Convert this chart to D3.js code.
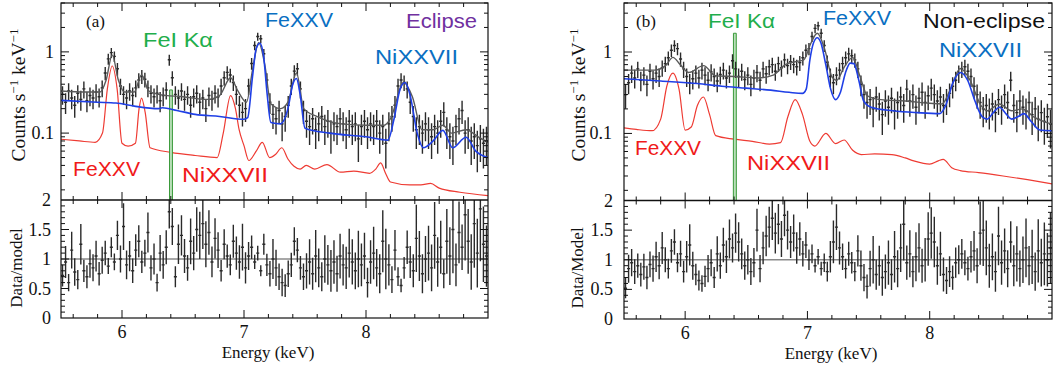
<!DOCTYPE html>
<html>
<head>
<meta charset="utf-8">
<script src="https://cdn.jsdelivr.net/npm/d3@7"></script>
<style>
  body { margin: 0; background: #fff; }
  svg { display: block; }
</style>
</head>
<body>
<svg id="chart" width="1055" height="371"></svg>
<script>
// ---- Data ----
// Spectral bins: 140 bins of 0.025 keV between 5.5 and 9.0 keV
const binStart = 5.5;
const binWidth = 0.025;
const binCount = 140;

// (a) Eclipse: observed rate, counts s^-1 keV^-1
const countsA = [
  0.30, 0.24, 0.33, 0.27, 0.22, 0.31, 0.26, 0.35, 0.25, 0.29,
  0.27, 0.32, 0.28, 0.36, 0.55, 0.82, 0.98, 0.88, 0.62, 0.38,
  0.30, 0.27, 0.33, 0.29, 0.36, 0.45, 0.50, 0.46, 0.36, 0.31,
  0.28, 0.31, 0.25, 0.29, 0.34, 0.80, 0.48, 0.30, 0.27, 0.33,
  0.26, 0.30, 0.22, 0.28, 0.31, 0.24, 0.27, 0.20, 0.29, 0.26,
  0.31, 0.28, 0.38, 0.48, 0.56, 0.52, 0.42, 0.30, 0.22, 0.18,
  0.20, 0.38, 0.72, 1.20, 1.55, 1.45, 0.95, 0.45, 0.24, 0.17,
  0.15, 0.19, 0.13, 0.16, 0.22, 0.38, 0.58, 0.62, 0.35, 0.19,
  0.14, 0.12, 0.15, 0.11, 0.13, 0.16, 0.12, 0.14, 0.10, 0.13,
  0.12, 0.15, 0.13, 0.11, 0.14, 0.12, 0.13, 0.085, 0.12, 0.14,
  0.11, 0.13, 0.12, 0.14, 0.10, 0.12, 0.075, 0.13, 0.16, 0.22,
  0.38, 0.45, 0.42, 0.35, 0.24, 0.16, 0.11, 0.12, 0.10, 0.13,
  0.11, 0.09, 0.12, 0.10, 0.14, 0.18, 0.11, 0.09, 0.08, 0.12,
  0.15, 0.19, 0.10, 0.11, 0.08, 0.09, 0.07, 0.085, 0.075, 0.08
];
const ratioA = [
  0.72, 0.95, 0.60, 1.15, 0.78, 0.65, 1.25, 0.80, 0.70, 0.92,
  0.85, 1.05, 0.75, 0.98, 1.10, 0.88, 1.20, 0.95, 1.40, 1.00,
  1.55, 0.90, 1.05, 0.80, 1.15, 1.30, 0.95, 1.10, 1.45, 0.85,
  1.00, 0.60, 1.10, 0.90, 1.20, 1.80, 1.55, 0.70, 1.25, 1.40,
  1.05, 0.85, 1.30, 1.10, 1.50, 1.40, 1.60, 1.25, 1.45, 0.95,
  1.35, 1.15, 0.80, 1.25, 1.05, 0.90, 1.30, 1.10, 0.95, 1.20,
  0.85, 1.05, 1.20, 0.95, 1.10, 0.80, 1.25, 0.90, 0.75, 1.00,
  0.85, 0.70, 0.60, 0.55, 0.75, 0.90, 1.30, 1.15, 0.85, 0.70,
  0.80, 0.95, 0.75, 1.05, 0.85, 0.70, 1.00, 0.90, 0.80, 0.95,
  0.75, 1.05, 0.90, 0.85, 1.10, 0.95, 0.80, 1.00, 0.90, 1.05,
  0.60, 0.95, 1.10, 0.85, 0.75, 1.30, 1.00, 0.90, 0.65, 1.15,
  0.70, 0.55, 0.85, 1.20, 0.95, 0.80, 1.35, 1.05, 0.75, 1.00,
  1.10, 0.85, 1.40, 0.95, 1.20, 0.75, 1.30, 1.05, 1.50, 0.90,
  1.45, 1.20, 1.75, 1.30, 0.95, 1.60, 1.10, 1.85, 1.25, 1.05
];
// model curves, [energy keV, rate]
const totalModelA = [
  [5.5, 0.33], [5.7, 0.32], [5.82, 0.32], [5.87, 0.45], [5.92, 0.92], [5.97, 0.45],
  [6.02, 0.32], [6.1, 0.32], [6.16, 0.52], [6.22, 0.33], [6.3, 0.3], [6.5, 0.28],
  [6.7, 0.26], [6.8, 0.29], [6.89, 0.48], [6.95, 0.33], [7.02, 0.24], [7.07, 0.6],
  [7.12, 1.3], [7.17, 0.7], [7.22, 0.23], [7.3, 0.2], [7.36, 0.24], [7.43, 0.55],
  [7.49, 0.2], [7.6, 0.16], [7.8, 0.13], [8.0, 0.125], [8.15, 0.125], [8.2, 0.15],
  [8.31, 0.42], [8.38, 0.28], [8.46, 0.11], [8.55, 0.11], [8.63, 0.125], [8.7, 0.1],
  [8.82, 0.11], [8.92, 0.09], [9.0, 0.077]
];
const jetModelA = [
  [5.5, 0.253], [5.8, 0.24], [5.95, 0.235], [6.1, 0.215], [6.3, 0.2], [6.33, 0.205],
  [6.45, 0.19], [6.6, 0.17], [6.8, 0.16], [7.0, 0.148], [7.03, 0.155], [7.07, 0.5],
  [7.1, 1.1], [7.13, 1.28], [7.16, 0.9], [7.19, 0.3], [7.22, 0.135], [7.3, 0.13],
  [7.36, 0.2], [7.4, 0.4], [7.43, 0.47], [7.46, 0.3], [7.5, 0.115], [7.7, 0.1],
  [8.0, 0.09], [8.18, 0.082], [8.23, 0.15], [8.28, 0.35], [8.32, 0.42], [8.36, 0.3],
  [8.42, 0.1], [8.47, 0.066], [8.55, 0.08], [8.63, 0.108], [8.71, 0.066], [8.82, 0.089],
  [8.9, 0.06], [9.0, 0.05]
];
const restModelA = [
  [5.5, 0.084], [5.65, 0.08], [5.78, 0.077], [5.84, 0.1], [5.88, 0.35], [5.92, 0.67],
  [5.96, 0.35], [6.0, 0.075], [6.05, 0.069], [6.11, 0.075], [6.14, 0.2], [6.16, 0.27],
  [6.19, 0.18], [6.23, 0.066], [6.4, 0.058], [6.6, 0.053], [6.78, 0.05], [6.83, 0.1],
  [6.89, 0.29], [6.93, 0.2], [6.96, 0.11], [7.0, 0.07], [7.04, 0.046], [7.1, 0.06],
  [7.15, 0.077], [7.21, 0.05], [7.26, 0.055], [7.31, 0.066], [7.36, 0.048], [7.41, 0.039],
  [7.46, 0.036], [7.51, 0.04], [7.58, 0.036], [7.68, 0.041], [7.79, 0.033], [7.9, 0.034],
  [8.03, 0.032], [8.08, 0.036], [8.12, 0.043], [8.16, 0.032], [8.2, 0.025], [8.36, 0.023],
  [8.45, 0.023], [8.53, 0.024], [8.6, 0.021], [8.77, 0.0187], [9.0, 0.017]
];
const ironLineA = [[6.389, 0.005], [6.39, 0.34], [6.413, 0.34], [6.414, 0.005]];

// (b) Non-eclipse
const countsB = [
  0.30, 0.42, 0.55, 0.48, 0.62, 0.45, 0.52, 0.40, 0.58, 0.47,
  0.55, 0.50, 0.64, 0.72, 0.85, 1.05, 1.20, 1.10, 0.82, 0.62,
  0.50, 0.42, 0.47, 0.55, 0.48, 0.60, 0.52, 0.45, 0.57, 0.50,
  0.44, 0.53, 0.60, 0.48, 0.55, 0.78, 0.62, 0.50, 0.58, 0.46,
  0.52, 0.40, 0.48, 0.56, 0.45, 0.62, 0.54, 0.66, 0.70, 0.58,
  0.72, 0.64, 0.80, 0.68, 0.76, 0.70, 0.66, 0.74, 0.85, 1.05,
  1.10, 1.55, 1.95, 2.10, 1.70, 1.20, 0.75, 0.50, 0.42, 0.52,
  0.60, 0.72, 0.85, 0.95, 0.90, 0.80, 0.62, 0.40, 0.30, 0.24,
  0.26, 0.20, 0.28, 0.23, 0.17, 0.25, 0.21, 0.27, 0.19, 0.24,
  0.28, 0.22, 0.35, 0.25, 0.30, 0.21, 0.27, 0.32, 0.24, 0.29,
  0.36, 0.30, 0.25, 0.28, 0.22, 0.26, 0.31, 0.38, 0.45, 0.55,
  0.62, 0.66, 0.58, 0.50, 0.38, 0.30, 0.24, 0.20, 0.22, 0.19,
  0.23, 0.18, 0.26, 0.21, 0.30, 0.24, 0.45, 0.22, 0.18, 0.25,
  0.21, 0.19, 0.24, 0.17, 0.20, 0.15, 0.18, 0.14, 0.16, 0.13
];
const ratioB = [
  0.52, 0.85, 0.95, 0.80, 0.90, 0.75, 0.88, 0.70, 0.92, 0.85,
  1.05, 0.90, 1.20, 1.00, 0.85, 1.15, 1.30, 0.95, 1.10, 0.80,
  1.05, 1.25, 0.90, 0.75, 0.65, 0.60, 0.72, 0.85, 0.95, 0.70,
  1.10, 0.90, 1.25, 1.05, 1.35, 1.20, 1.45, 1.30, 1.10, 0.90,
  1.00, 0.80, 0.95, 1.50, 0.85, 1.20, 1.40, 1.55, 1.70, 1.45,
  1.60, 1.35, 1.75, 1.50, 1.30, 1.45, 1.20, 1.35, 1.10, 1.25,
  1.00, 1.10, 0.90, 1.05, 0.85, 0.95, 0.80, 1.05, 1.30, 1.55,
  1.20, 1.05, 0.85, 1.10, 0.95, 0.80, 1.15, 0.90, 0.70, 0.55,
  0.85, 1.00, 0.75, 0.90, 0.70, 0.80, 0.95, 0.75, 1.05, 0.85,
  1.20, 1.60, 0.95, 1.10, 0.80, 1.05, 1.20, 0.90, 1.00, 1.35,
  1.45, 1.30, 0.90, 1.10, 0.75, 0.65, 0.80, 0.70, 0.95, 1.00,
  1.10, 0.95, 0.85, 1.05, 1.15, 0.90, 1.45, 1.50, 1.20, 0.90,
  1.05, 0.80, 1.40, 0.95, 1.15, 0.85, 1.30, 0.90, 1.10, 0.85,
  1.00, 1.20, 0.90, 1.05, 0.80, 1.15, 0.95, 1.10, 1.00, 1.20
];
const totalModelB = [
  [5.5, 0.6], [5.75, 0.6], [5.84, 0.68], [5.9, 0.86], [5.96, 0.7], [6.03, 0.56],
  [6.15, 0.68], [6.25, 0.51], [6.4, 0.5], [6.6, 0.48], [6.72, 0.52], [6.82, 0.7],
  [6.9, 0.76], [6.97, 0.8], [7.03, 1.3], [7.08, 1.7], [7.14, 1.1], [7.2, 0.5],
  [7.24, 0.45], [7.3, 0.65], [7.37, 0.86], [7.43, 0.5], [7.49, 0.29], [7.6, 0.26],
  [7.8, 0.25], [8.0, 0.235], [8.1, 0.23], [8.17, 0.35], [8.25, 0.63], [8.33, 0.45],
  [8.42, 0.22], [8.47, 0.19], [8.57, 0.23], [8.67, 0.19], [8.76, 0.2], [8.85, 0.16],
  [9.0, 0.13]
];
const jetModelB = [
  [5.5, 0.47], [5.8, 0.44], [6.1, 0.41], [6.3, 0.38], [6.5, 0.36], [6.7, 0.34],
  [6.85, 0.32], [6.96, 0.31], [6.99, 0.35], [7.02, 0.8], [7.05, 1.3], [7.08, 1.5],
  [7.11, 1.3], [7.15, 0.7], [7.19, 0.35], [7.23, 0.26], [7.27, 0.32], [7.31, 0.55],
  [7.35, 0.73], [7.38, 0.72], [7.42, 0.45], [7.46, 0.25], [7.52, 0.21], [7.7, 0.19],
  [7.9, 0.18], [8.08, 0.175], [8.13, 0.22], [8.19, 0.42], [8.25, 0.56], [8.31, 0.45],
  [8.37, 0.25], [8.43, 0.16], [8.47, 0.15], [8.52, 0.18], [8.57, 0.21], [8.63, 0.17],
  [8.67, 0.15], [8.72, 0.16], [8.77, 0.175], [8.83, 0.14], [8.9, 0.11], [9.0, 0.108]
];
const restModelB = [
  [5.5, 0.117], [5.6, 0.112], [5.73, 0.108], [5.8, 0.15], [5.85, 0.38], [5.9, 0.55],
  [5.95, 0.35], [6.0, 0.11], [6.05, 0.12], [6.1, 0.22], [6.15, 0.28], [6.2, 0.17],
  [6.25, 0.094], [6.4, 0.085], [6.55, 0.08], [6.69, 0.074], [6.78, 0.077], [6.84, 0.16],
  [6.9, 0.26], [6.96, 0.17], [7.02, 0.08], [7.06, 0.07], [7.15, 0.1], [7.23, 0.075],
  [7.3, 0.083], [7.37, 0.062], [7.44, 0.055], [7.55, 0.056], [7.69, 0.055], [7.8, 0.05],
  [7.87, 0.046], [8.0, 0.042], [8.07, 0.046], [8.11, 0.048], [8.18, 0.038], [8.25, 0.035],
  [8.4, 0.033], [8.6, 0.03], [8.8, 0.027], [9.0, 0.024]
];
const ironLineB = [[6.394, 0.005], [6.395, 1.7], [6.418, 1.7], [6.419, 0.005]];

// axis settings
const energyDomain = [5.5, 9.0];
const rateDomain = [0.015, 4];
const ratioDomain = [0, 2];
const energyLabels = [6, 7, 8];
const rateLabels = [0.1, 1];
const ratioLabels = [0, 0.5, 1, 1.5, 2];

const binE = d3.range(binCount).map((i) => binStart + (i + 0.5) * binWidth);

const serif = "Liberation Serif, Times New Roman, serif";
const sans = "Liberation Sans, Arial, sans-serif";

const svg = d3.select("#chart");

const drawPanel = (opts) => {
  const { left, right, top, mid, bottom, id } = opts;
  const x = d3.scaleLinear().domain(energyDomain).range([left, right]);
  const yU = d3.scaleLog().domain(rateDomain).range([mid, top]);
  const yL = d3.scaleLinear().domain(ratioDomain).range([bottom, mid]);

  const g = svg.append("g");

  // clip paths
  const defs = svg.append("defs");
  defs.append("clipPath").attr("id", `clipU-${id}`)
    .append("rect").attr("x", left).attr("y", top)
    .attr("width", right - left).attr("height", mid - top);
  defs.append("clipPath").attr("id", `clipL-${id}`)
    .append("rect").attr("x", left).attr("y", mid)
    .attr("width", right - left).attr("height", bottom - mid);

  const upper = g.append("g").attr("clip-path", `url(#clipU-${id})`);
  const lower = g.append("g").attr("clip-path", `url(#clipL-${id})`);

  const line = d3.line()
    .x((d) => x(d[0]))
    .y((d) => yU(d[1]))
    .curve(d3.curveMonotoneX);

  // red: rest-frame lines
  upper.append("path").datum(opts.restModel)
    .attr("fill", "none").attr("stroke", "#ee3b33").attr("stroke-width", 1.2)
    .attr("d", line);

  // green: Fe I K alpha
  upper.append("path").datum(opts.ironLine)
    .attr("fill", "#b9dfb9").attr("stroke", "#3a9a3a").attr("stroke-width", 1)
    .attr("d", d3.line().x((d) => x(d[0])).y((d) => yU(d[1])));

  // data with error bars
  const errK = opts.errScale;
  const pts = binE.map((e, i) => {
    const v = opts.counts[i];
    const err = errK * Math.sqrt(v);
    return { e, v, err, r: opts.ratio[i], rErr: opts.ratio[i] * err / v };
  });

  const hw = binWidth / 2;
  upper.append("path")
    .attr("fill", "none").attr("stroke", "#2a2a2a").attr("stroke-width", 1.4)
    .attr("d", pts.map((d) =>
      `M${x(d.e)},${yU(Math.max(d.v - d.err, 0.001))}V${yU(d.v + d.err)}` +
      `M${x(d.e - hw)},${yU(d.v)}H${x(d.e + hw)}`).join(""));

  // gray: total model
  upper.append("path").datum(opts.totalModel)
    .attr("fill", "none").attr("stroke", "#5a5a5a").attr("stroke-width", 1.4)
    .attr("d", line);

  // blue: jet component
  upper.append("path").datum(opts.jetModel)
    .attr("fill", "none").attr("stroke", "#1f3fe6").attr("stroke-width", 1.6)
    .attr("d", line);

  // ratio panel
  lower.append("line")
    .attr("x1", left).attr("x2", right)
    .attr("y1", yL(1)).attr("y2", yL(1))
    .attr("stroke", "#8a8a8a").attr("stroke-width", 1.5);

  lower.append("path")
    .attr("fill", "none").attr("stroke", "#2a2a2a").attr("stroke-width", 1.4)
    .attr("d", pts.map((d) =>
      `M${x(d.e)},${yL(d.r - d.rErr)}V${yL(d.r + d.rErr)}` +
      `M${x(d.e - hw)},${yL(d.r)}H${x(d.e + hw)}`).join(""));

  // frames
  g.append("rect")
    .attr("x", left).attr("y", top)
    .attr("width", right - left).attr("height", bottom - top)
    .attr("fill", "none").attr("stroke", "#111").attr("stroke-width", 1.2);
  g.append("line")
    .attr("x1", left).attr("x2", right).attr("y1", mid).attr("y2", mid)
    .attr("stroke", "#111").attr("stroke-width", 1.6);

  // inward ticks
  const ticks = g.append("g").attr("stroke", "#111").attr("stroke-width", 1);
  const eMinor = d3.range(5.6, 9.0, 0.2).filter((v) => Math.abs(v - Math.round(v)) > 0.01);
  const xTicks = (yPos, dir) => {
    energyLabels.forEach((v) => ticks.append("line")
      .attr("x1", x(v)).attr("x2", x(v)).attr("y1", yPos).attr("y2", yPos + dir * 8));
    eMinor.forEach((v) => ticks.append("line")
      .attr("x1", x(v)).attr("x2", x(v)).attr("y1", yPos).attr("y2", yPos + dir * 4));
  };
  xTicks(top, 1);
  xTicks(mid, -1);
  xTicks(mid, 1);
  xTicks(bottom, -1);

  const yTicks = (scale, values, isMajor) => {
    values.forEach((v) => {
      const len = isMajor(v) ? 8 : 4;
      const yy = scale(v);
      ticks.append("line").attr("x1", left).attr("x2", left + len).attr("y1", yy).attr("y2", yy);
      ticks.append("line").attr("x1", right).attr("x2", right - len).attr("y1", yy).attr("y2", yy);
    });
  };
  yTicks(yU, yU.ticks(), (v) => Math.abs(Math.log10(v) - Math.round(Math.log10(v))) < 1e-6);
  yTicks(yL, d3.range(0.1, 2, 0.1), (v) => Math.abs(v * 2 - Math.round(v * 2)) < 1e-6);

  // tick labels
  const lab = g.append("g")
    .style("font-family", serif).style("font-size", "18px").attr("fill", "#111");
  energyLabels.forEach((v) => lab.append("text")
    .attr("x", x(v)).attr("y", bottom + 20).attr("text-anchor", "middle").text(v));
  rateLabels.forEach((v) => lab.append("text")
    .attr("x", left - opts.labelGapU).attr("y", yU(v) + 6).attr("text-anchor", "end").text(v));
  ratioLabels.forEach((v) => lab.append("text")
    .attr("x", left - opts.labelGapL).attr("y", yL(v) + 6).attr("text-anchor", "end").text(v));

  // axis titles
  lab.append("text")
    .attr("x", opts.xTitleX).attr("y", bottom + 40)
    .style("font-size", "17px")
    .attr("text-anchor", "middle").text("Energy (keV)");

  const yt = lab.append("text")
    .attr("transform", `translate(${opts.yTitleU},95) rotate(-90)`)
    .style("font-size", "19.5px")
    .attr("text-anchor", "middle");
  yt.append("tspan").text("Counts s");
  yt.append("tspan").attr("dy", -7).style("font-size", "13px").text("\u22121");
  yt.append("tspan").attr("dy", 7).text(" keV");
  yt.append("tspan").attr("dy", -7).style("font-size", "13px").text("\u22121");

  lab.append("text")
    .attr("transform", `translate(${opts.yTitleL},268) rotate(-90)`)
    .style("font-size", "17px")
    .attr("text-anchor", "middle").text(opts.ratioTitle);

  lab.append("text")
    .style("font-size", "17px")
    .attr("x", opts.tag[1]).attr("y", 27).text(opts.tag[0]);

  // annotations
  opts.notes.forEach((n) => g.append("text")
    .attr("x", n.x).attr("y", n.y)
    .attr("fill", n.color)
    .attr("textLength", n.w).attr("lengthAdjust", "spacingAndGlyphs")
    .style("font-family", sans).style("font-size", "21px")
    .text(n.text));
};

const green = "#1fae4c", blueText = "#0a6fc2", red = "#f01a1a";

drawPanel({
  id: "a", left: 61, right: 488, top: 3, mid: 200, bottom: 318,
  counts: countsA, ratio: ratioA, errScale: 0.14,
  totalModel: totalModelA, jetModel: jetModelA, restModel: restModelA, ironLine: ironLineA,
  labelGapU: 7, labelGapL: 10, xTitleX: 268, yTitleU: 25, yTitleL: 22,
  ratioTitle: "Data/model", tag: ["(a)", 86],
  notes: [
    { text: "FeI K\u03b1", x: 143, y: 47, w: 70, color: green },
    { text: "FeXXV", x: 265, y: 27, w: 68, color: blueText },
    { text: "Eclipse", x: 406, y: 28, w: 71, color: "#7030a0" },
    { text: "NiXXVII", x: 375, y: 64, w: 83, color: blueText },
    { text: "FeXXV", x: 73, y: 176, w: 67, color: red },
    { text: "NiXXVII", x: 182, y: 182, w: 86, color: red }
  ]
});

drawPanel({
  id: "b", left: 624, right: 1052, top: 3, mid: 200.5, bottom: 319,
  counts: countsB, ratio: ratioB, errScale: 0.18,
  totalModel: totalModelB, jetModel: jetModelB, restModel: restModelB, ironLine: ironLineB,
  labelGapU: 12, labelGapL: 11, xTitleX: 831, yTitleU: 585, yTitleL: 583,
  ratioTitle: "Data/Model", tag: ["(b)", 636],
  notes: [
    { text: "FeI K\u03b1", x: 708, y: 28, w: 67, color: green },
    { text: "FeXXV", x: 823, y: 25, w: 68, color: blueText },
    { text: "Non-eclipse", x: 923, y: 28, w: 122, color: "#111" },
    { text: "NiXXVII", x: 939, y: 57, w: 83, color: blueText },
    { text: "FeXXV", x: 635, y: 155, w: 66, color: red },
    { text: "NiXXVII", x: 747, y: 170, w: 83, color: red }
  ]
});
</script>
</body>
</html>
